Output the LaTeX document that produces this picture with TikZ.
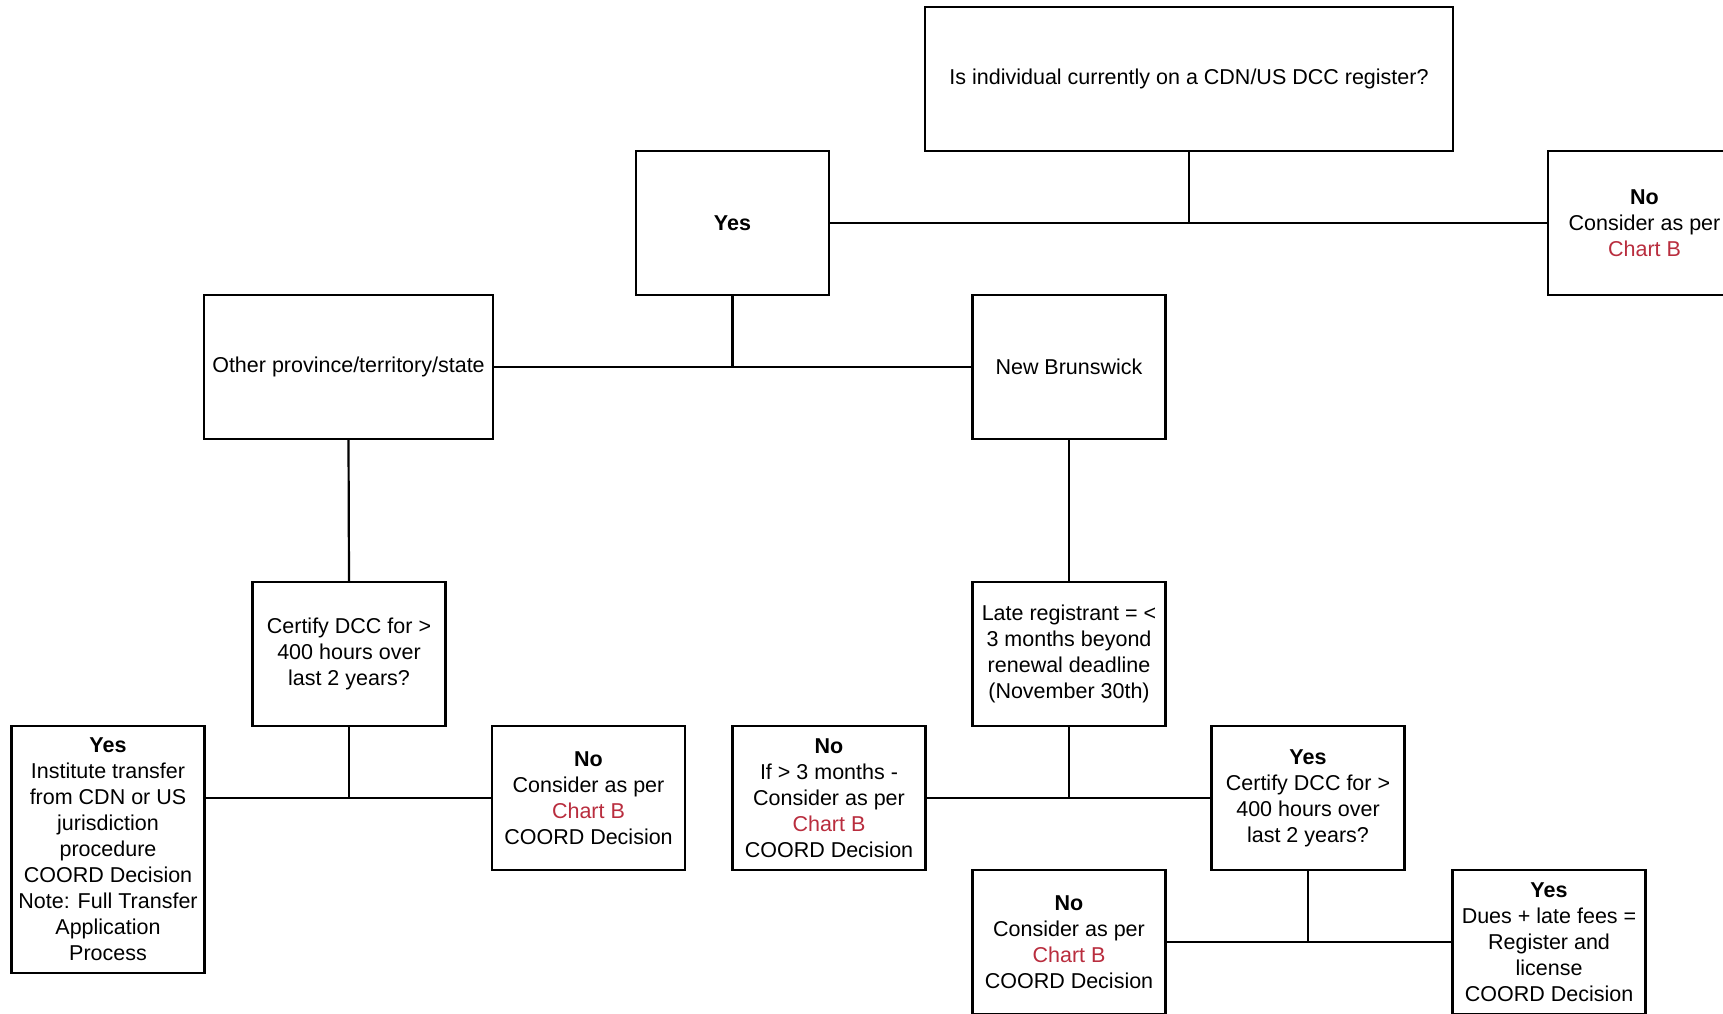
\documentclass[tikz,border=0pt]{standalone}
\usepackage{fontspec}
\setmainfont{Liberation Sans}
\usepackage{tikz}
\usetikzlibrary{positioning}
\definecolor{chartred}{RGB}{185,45,62}
\NewDocumentCommand \chartb{}{%
    \textcolor{chartred}{Chart B}%
}

\begin{document}
\begin{tikzpicture}[x=0.5pt, y=-0.5pt]
    \tikzstyle{box}=[draw=black, line width=1.1pt, fill=white, align=center, inner sep=2pt, minimum width=96.5pt, minimum height=72pt, font=\fontsize{10.75}{13}\selectfont]
    \tikzstyle{link}=[black, line width=1.1pt]
    \clip (0,0) rectangle (1723,1013);
    \fill[white] (0,0) rectangle (1723,1013);
    % first question
    \draw (1189,79) node[box, minimum width=264pt] (register) {Is individual currently on a CDN/US DCC register?} ;
    \draw (732.5,223) node[box] (yes) {\textbf{Yes}} ;
    \draw (1644.5,223) node[box] (notreg) {\textbf{No}\\Consider as per\\\chartb} ;
    % where registered
    \draw (348.5,367) node[box, minimum width=144.5pt] (other) {Other province/territory/state} ;
    \draw (1069,367) node[box] (nb) {New Brunswick} ;
    \draw (349,654) node[box] (certify) {Certify DCC for >\\400 hours over\\last 2 years?} ;
    \draw (1069,654) node[box] (late) {Late registrant = <\\3 months beyond\\renewal deadline\\(November 30th)} ;
    % outcomes
    \draw (108,849.5) node[box, minimum height=123.5pt] (transfer) {\textbf{Yes}\\Institute transfer\\from CDN or US\\jurisdiction\\procedure\\COORD Decision\\Note: Full Transfer\\Application\\Process} ;
    \draw (588.5,798) node[box] (nohours) {\textbf{No}\\Consider as per\\\chartb\\COORD Decision} ;
    \draw (829,798) node[box] (toolate) {\textbf{No}\\If > 3 months -\\Consider as per\\\chartb\\COORD Decision} ;
    \draw (1308,798) node[box] (latecert) {\textbf{Yes}\\Certify DCC for >\\400 hours over\\last 2 years?} ;
    \draw (1069,942) node[box] (latenohours) {\textbf{No}\\Consider as per\\\chartb\\COORD Decision} ;
    \draw (1549,942) node[box] (dues) {\textbf{Yes}\\Dues + late fees =\\Register and\\license\\COORD Decision} ;
    % connectors
    \draw[link] (register.south) -- (register.south |- yes.east) ;
    \draw[link] (yes.east) -- (notreg.west) ;
    \draw[link] (yes.south) -- (yes.south |- other.east) ;
    \draw[link] (other.east) -- (nb.west) ;
    \draw[link] (other.south) -- (certify.north) ;
    \draw[link] (nb.south) -- (late.north) ;
    \draw[link] (certify.south) -- (certify.south |- nohours.west) ;
    \draw[link] (transfer.east |- nohours.west) -- (nohours.west) ;
    \draw[link] (late.south) -- (late.south |- toolate.east) ;
    \draw[link] (toolate.east) -- (latecert.west) ;
    \draw[link] (latecert.south) -- (latecert.south |- dues.west) ;
    \draw[link] (latenohours.east) -- (dues.west) ;
\end{tikzpicture}
\end{document}
